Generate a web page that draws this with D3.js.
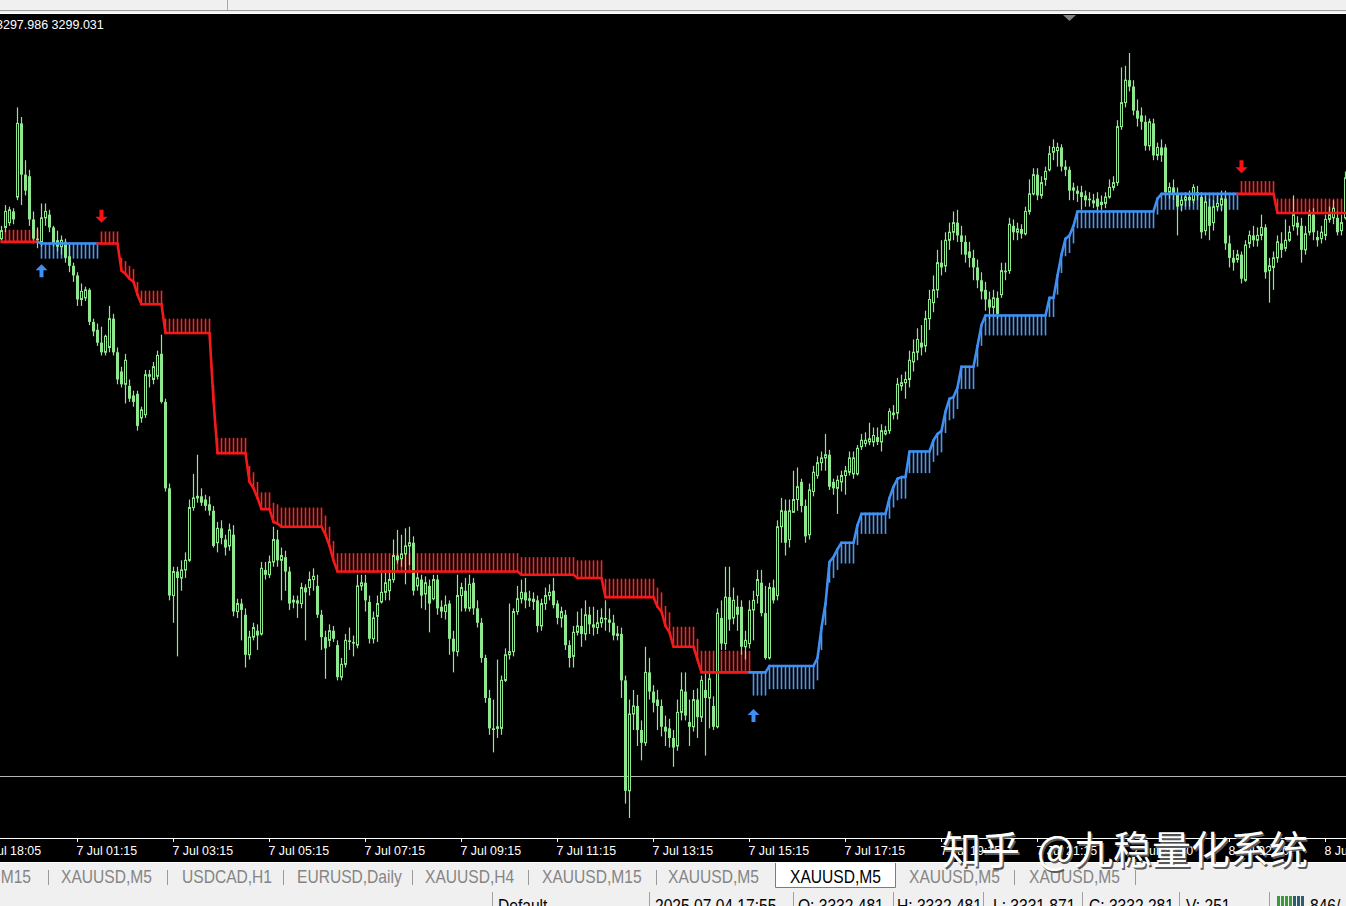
<!DOCTYPE html>
<html>
<head>
<meta charset="UTF-8">
<title>XAUUSD,M5</title>
<script src="https://cdn.jsdelivr.net/npm/d3@7"></script>
<style>
* { margin: 0; padding: 0; }
body { background: #000; overflow: hidden; }
#chart { display: block; }
</style>
</head>
<body>
<svg id="chart" width="1346" height="906"></svg>
<script>
// M5 bars, left to right: [open, high, low, close]
const candles = [
  [3331.6,3332.4,3331.5,3332.1],[3332.3,3333.7,3332.0,3333.3],[3332.6,3333.6,3332.4,3333.4],[3333.3,3333.5,3332.5,3332.8],
  [3334.2,3339.8,3334.0,3338.8],[3338.8,3339.2,3333.7,3335.6],[3335.6,3336.5,3334.3,3334.6],[3335.5,3335.9,3332.4,3332.8],
  [3332.8,3333.3,3331.3,3331.6],[3331.6,3332.3,3331.0,3331.5],[3331.4,3333.8,3331.1,3332.9],[3332.9,3333.8,3332.4,3333.3],
  [3333.1,3333.4,3332.0,3332.3],[3332.3,3332.4,3331.1,3331.3],[3331.5,3332.1,3330.8,3331.1],[3331.1,3331.8,3330.6,3331.5],
  [3331.4,3331.6,3330.1,3330.4],[3330.5,3331.2,3329.5,3329.9],[3329.9,3330.1,3328.9,3329.3],[3329.3,3329.5,3327.4,3327.8],
  [3327.8,3328.8,3327.4,3328.3],[3327.9,3328.6,3327.7,3328.4],[3328.4,3328.5,3326.2,3326.4],[3326.4,3326.6,3325.5,3325.8],
  [3325.9,3326.3,3324.9,3325.1],[3325.1,3326.1,3324.3,3324.5],[3324.5,3325.6,3324.3,3325.5],[3324.8,3327.4,3324.5,3326.6],
  [3326.6,3326.9,3324.3,3324.5],[3324.5,3324.8,3322.5,3322.8],[3323.3,3323.6,3322.3,3322.5],[3322.5,3324.4,3321.3,3324.0],
  [3322.4,3322.8,3321.4,3321.6],[3321.8,3322.1,3321.1,3321.4],[3321.9,3322.1,3319.6,3319.9],[3320.4,3321.1,3320.1,3320.9],
  [3320.6,3323.4,3320.4,3323.1],[3323.0,3323.4,3322.3,3323.1],[3322.8,3323.9,3322.5,3323.6],[3323.0,3324.6,3322.8,3324.3],
  [3324.4,3325.6,3321.3,3321.4],[3321.4,3321.6,3315.8,3316.0],[3316.0,3316.3,3309.0,3309.3],[3309.3,3311.1,3307.6,3310.8],
  [3310.8,3311.1,3305.5,3310.4],[3310.4,3311.5,3309.6,3310.9],[3310.9,3312.0,3310.4,3311.5],[3311.5,3315.3,3311.4,3314.8],
  [3314.8,3316.9,3314.6,3315.4],[3315.4,3318.1,3315.1,3315.5],[3315.5,3316.0,3314.9,3315.1],[3315.3,3315.6,3314.6,3314.9],
  [3315.0,3315.5,3314.3,3314.6],[3314.6,3314.9,3312.3,3312.4],[3312.6,3313.9,3312.0,3313.5],[3313.5,3314.0,3312.5,3312.9],
  [3312.8,3313.1,3311.8,3312.3],[3312.4,3313.8,3312.1,3313.4],[3313.1,3313.7,3308.0,3308.3],[3308.3,3309.1,3307.9,3308.8],
  [3308.8,3309.1,3306.5,3308.4],[3308.1,3308.5,3304.8,3305.6],[3305.6,3307.1,3305.3,3306.7],[3306.7,3307.6,3306.5,3307.3],
  [3307.1,3307.5,3305.9,3306.8],[3306.9,3311.4,3306.8,3311.0],[3310.9,3311.4,3310.3,3310.6],[3310.6,3311.8,3310.4,3311.4],
  [3311.4,3313.6,3311.1,3312.8],[3312.8,3313.4,3311.1,3311.5],[3311.5,3312.3,3309.0,3311.8],[3311.7,3312.1,3309.6,3310.8],
  [3310.8,3311.1,3308.4,3308.8],[3308.9,3309.3,3308.5,3309.0],[3309.0,3309.3,3307.9,3308.8],[3308.8,3310.1,3308.5,3309.8],
  [3309.8,3310.0,3306.5,3309.5],[3309.8,3310.8,3309.3,3310.3],[3310.3,3311.0,3309.6,3310.5],[3309.9,3310.6,3307.9,3308.1],
  [3308.1,3308.4,3305.9,3306.7],[3306.7,3307.1,3304.1,3306.0],[3306.5,3307.5,3306.1,3307.1],[3307.1,3307.4,3306.4,3306.6],
  [3306.2,3306.5,3304.0,3304.2],[3304.2,3305.4,3304.0,3305.0],[3305.0,3306.9,3304.8,3306.5],[3306.5,3307.3,3305.9,3306.4],
  [3306.4,3306.8,3305.5,3306.3],[3306.2,3310.6,3306.0,3309.9],[3309.9,3310.6,3309.6,3310.1],[3310.1,3310.6,3308.3,3309.0],
  [3308.9,3309.3,3306.3,3306.6],[3306.6,3308.3,3306.3,3307.9],[3308.0,3309.3,3306.4,3308.8],[3308.9,3310.7,3308.8,3309.5],
  [3309.5,3310.8,3309.0,3310.1],[3309.6,3310.9,3309.0,3310.3],[3310.3,3312.8,3310.1,3311.8],[3311.8,3313.4,3311.3,3311.5],
  [3311.6,3313.1,3311.1,3311.9],[3311.9,3313.5,3310.0,3312.4],[3312.4,3313.6,3311.2,3312.6],[3312.6,3313.0,3309.3,3309.6],
  [3309.9,3310.8,3309.6,3310.4],[3310.3,3310.6,3308.5,3309.3],[3309.4,3310.5,3308.4,3310.1],[3309.9,3310.3,3307.0,3308.8],
  [3309.1,3310.6,3309.0,3310.3],[3310.3,3310.6,3308.1,3308.5],[3308.6,3309.0,3307.9,3308.3],[3308.3,3309.3,3307.8,3308.7],
  [3308.8,3309.0,3305.6,3306.6],[3306.6,3307.1,3304.5,3305.8],[3305.8,3310.6,3305.5,3309.3],[3309.3,3310.1,3308.3,3309.8],
  [3309.6,3310.4,3308.3,3308.5],[3308.5,3310.6,3308.3,3310.0],[3310.1,3310.4,3308.1,3308.5],[3308.5,3309.0,3307.3,3307.6],
  [3307.6,3307.9,3305.1,3305.4],[3305.4,3305.6,3302.6,3302.9],[3302.9,3303.4,3300.6,3301.0],[3301.0,3302.8,3299.5,3300.9],
  [3301.0,3305.3,3300.4,3301.1],[3301.0,3304.3,3300.6,3304.0],[3304.0,3306.0,3303.9,3305.6],[3305.6,3308.8,3305.3,3305.8],
  [3305.8,3308.5,3305.5,3308.3],[3308.3,3309.9,3308.1,3309.1],[3309.1,3310.3,3308.8,3309.5],[3309.5,3310.4,3308.5,3309.0],
  [3309.0,3309.6,3308.6,3309.1],[3309.1,3309.5,3308.4,3308.9],[3309.0,3309.3,3307.0,3307.4],[3307.4,3309.1,3307.1,3308.8],
  [3308.8,3309.8,3308.4,3309.3],[3309.3,3310.0,3309.0,3309.5],[3309.6,3310.4,3308.5,3308.7],[3308.8,3309.0,3307.5,3307.9],
  [3307.9,3308.6,3307.3,3308.3],[3308.1,3308.4,3305.9,3306.2],[3306.2,3306.5,3304.8,3305.4],[3305.5,3307.4,3304.8,3307.0],
  [3307.0,3308.3,3306.8,3307.4],[3307.4,3308.5,3306.1,3306.9],[3306.9,3309.0,3306.5,3308.1],[3308.1,3308.6,3306.9,3307.5],
  [3307.5,3308.6,3306.8,3307.3],[3307.3,3308.4,3306.9,3307.6],[3307.6,3308.5,3307.3,3307.9],[3307.9,3309.0,3307.1,3307.8],
  [3307.8,3308.5,3307.0,3307.6],[3307.6,3308.1,3306.5,3306.8],[3306.8,3307.4,3306.5,3306.9],[3306.9,3307.3,3302.9,3304.0],
  [3304.0,3304.3,3296.3,3297.1],[3297.1,3302.8,3295.4,3301.9],[3301.9,3303.4,3300.9,3302.4],[3302.4,3303.1,3299.9,3300.9],
  [3300.9,3301.5,3299.0,3300.1],[3300.1,3306.1,3299.9,3304.5],[3304.5,3305.4,3302.8,3303.3],[3303.3,3303.7,3302.0,3302.6],
  [3302.8,3303.4,3300.9,3302.4],[3302.4,3302.8,3300.5,3301.1],[3301.1,3301.8,3299.9,3300.8],[3301.0,3301.6,3299.8,3300.4],
  [3300.4,3300.9,3298.6,3299.8],[3299.9,3302.8,3299.6,3302.0],[3302.0,3304.5,3301.5,3303.4],[3303.3,3304.5,3301.5,3301.8],
  [3301.4,3302.8,3299.9,3301.1],[3301.1,3303.4,3300.8,3302.8],[3302.8,3303.5,3300.4,3301.7],[3301.7,3304.3,3301.4,3304.0],
  [3303.4,3304.6,3299.3,3302.9],[3302.9,3304.5,3301.0,3304.1],[3302.4,3303.0,3300.9,3301.1],[3301.1,3308.5,3301.0,3308.2],
  [3307.9,3309.0,3305.9,3306.3],[3306.3,3311.1,3305.9,3309.2],[3309.2,3311.1,3307.1,3307.8],[3307.9,3309.8,3307.5,3309.0],
  [3308.6,3309.3,3307.1,3308.1],[3308.6,3309.0,3305.6,3306.1],[3306.1,3307.1,3305.3,3306.5],[3306.3,3309.0,3306.0,3308.4],
  [3308.4,3309.6,3306.5,3309.0],[3309.3,3310.9,3308.8,3310.3],[3310.1,3310.9,3308.0,3308.2],[3308.2,3309.9,3305.3,3305.4],
  [3305.4,3310.1,3305.3,3309.8],[3309.8,3310.3,3308.8,3309.0],[3309.3,3314.0,3309.0,3313.6],[3313.6,3315.4,3312.6,3314.6],
  [3314.6,3315.3,3311.8,3312.6],[3312.8,3315.3,3312.3,3314.6],[3314.5,3317.1,3314.5,3315.3],[3315.3,3317.3,3314.6,3316.1],
  [3316.4,3316.6,3314.5,3314.9],[3314.9,3315.3,3312.6,3313.0],[3313.1,3316.3,3312.8,3315.9],[3315.8,3317.4,3315.5,3317.0],
  [3316.8,3318.0,3316.6,3317.6],[3317.6,3318.3,3317.1,3317.9],[3317.9,3319.4,3317.1,3318.1],[3318.1,3318.4,3315.9,3316.1],
  [3316.4,3316.6,3315.6,3316.0],[3316.0,3316.8,3314.4,3316.5],[3316.4,3317.1,3315.8,3316.8],[3316.8,3317.4,3315.6,3317.1],
  [3317.0,3318.3,3316.8,3317.9],[3316.9,3318.3,3316.6,3317.9],[3316.9,3318.7,3316.8,3318.5],[3318.6,3319.4,3318.4,3319.0],
  [3318.8,3319.5,3318.6,3319.0],[3318.9,3320.1,3318.7,3319.1],[3318.9,3319.8,3318.6,3319.3],[3319.2,3319.8,3318.7,3318.9],
  [3318.9,3320.0,3318.3,3319.6],[3319.4,3319.9,3319.3,3319.6],[3319.6,3321.0,3319.4,3320.8],[3320.6,3321.2,3320.3,3320.7],
  [3320.7,3322.9,3320.3,3322.5],[3322.4,3323.1,3322.1,3322.6],[3322.6,3323.3,3321.6,3322.8],[3322.8,3324.6,3322.3,3324.0],
  [3323.9,3325.3,3323.3,3324.5],[3324.5,3326.0,3324.0,3325.3],[3325.1,3326.2,3324.3,3324.8],[3324.9,3327.1,3324.5,3326.6],
  [3326.6,3328.4,3325.9,3327.8],[3327.6,3329.3,3327.0,3328.4],[3328.4,3330.9,3327.9,3330.1],[3330.1,3331.5,3329.3,3329.8],
  [3329.9,3332.0,3329.5,3331.5],[3331.5,3332.6,3330.9,3332.0],[3332.0,3333.3,3331.5,3332.6],[3332.6,3333.4,3331.4,3331.8],
  [3331.8,3332.4,3330.6,3331.4],[3331.4,3331.8,3330.1,3330.6],[3330.8,3331.4,3329.8,3330.4],[3330.4,3330.9,3329.0,3329.8],
  [3329.8,3330.3,3328.5,3329.0],[3329.0,3329.5,3327.8,3328.3],[3328.4,3328.9,3327.1,3327.8],[3327.8,3328.3,3326.6,3327.3],
  [3327.3,3328.4,3326.7,3327.9],[3327.9,3328.3,3326.6,3326.9],[3328.1,3330.1,3327.9,3329.6],[3329.6,3330.1,3329.0,3329.5],
  [3329.6,3332.9,3329.4,3332.5],[3332.4,3332.8,3331.5,3332.0],[3332.0,3332.6,3331.5,3332.2],[3332.2,3332.5,3331.6,3331.9],
  [3331.9,3333.6,3331.8,3333.3],[3333.3,3335.3,3333.1,3334.4],[3334.4,3336.0,3334.3,3335.6],[3335.6,3336.0,3334.0,3334.3],
  [3334.3,3335.5,3334.1,3335.1],[3335.3,3336.1,3334.9,3335.8],[3335.9,3337.4,3335.8,3336.9],[3337.0,3337.8,3336.5,3337.3],
  [3337.1,3337.6,3336.1,3337.3],[3337.3,3337.5,3335.8,3336.1],[3336.1,3336.5,3335.5,3335.9],[3335.9,3336.1,3334.0,3334.6],
  [3334.8,3335.1,3334.0,3334.6],[3334.6,3334.9,3333.9,3334.4],[3334.5,3334.9,3333.4,3334.2],[3334.3,3334.6,3333.6,3334.0],
  [3334.1,3334.5,3333.6,3334.0],[3334.0,3334.4,3333.5,3333.8],[3334.1,3334.5,3333.3,3333.6],[3333.9,3334.3,3333.4,3333.7],
  [3333.8,3334.5,3333.5,3334.2],[3334.2,3335.3,3334.1,3334.8],[3334.8,3335.5,3334.6,3335.1],[3335.1,3339.0,3334.9,3338.6],
  [3338.6,3342.3,3338.4,3340.1],[3340.1,3342.4,3339.8,3341.5],[3341.5,3343.2,3340.8,3341.1],[3341.1,3341.5,3339.3,3339.6],
  [3339.6,3340.3,3338.6,3339.1],[3339.3,3339.8,3338.4,3338.9],[3338.9,3339.3,3337.1,3337.4],[3337.4,3339.1,3337.1,3338.9],
  [3338.8,3339.1,3336.5,3336.8],[3336.8,3337.6,3336.5,3337.3],[3337.3,3337.8,3336.4,3336.8],[3337.3,3337.5,3334.3,3334.5],
  [3334.5,3335.1,3334.1,3334.8],[3334.8,3335.3,3334.0,3334.4],[3334.4,3334.8,3331.8,3333.6],[3333.7,3334.3,3333.3,3334.0],
  [3334.0,3334.5,3333.6,3334.2],[3334.2,3334.6,3333.6,3334.0],[3334.0,3335.0,3333.8,3334.8],[3334.5,3334.9,3334.0,3334.3],
  [3334.2,3334.5,3331.6,3332.0],[3332.1,3334.3,3331.8,3333.9],[3333.6,3334.1,3331.5,3332.4],[3332.6,3334.0,3332.1,3333.6],
  [3333.6,3334.3,3333.3,3333.8],[3333.7,3334.6,3333.3,3334.1],[3334.1,3334.6,3330.9,3331.3],[3331.3,3331.8,3329.8,3330.4],
  [3330.4,3330.9,3329.6,3330.1],[3330.3,3330.9,3330.1,3330.6],[3330.6,3330.8,3328.8,3329.1],[3329.0,3331.5,3328.9,3331.2],
  [3331.3,3332.1,3331.0,3331.8],[3331.8,3332.4,3331.1,3331.5],[3331.5,3332.3,3331.1,3331.8],[3331.8,3333.1,3331.5,3332.3],
  [3332.3,3332.5,3329.1,3329.5],[3329.6,3330.4,3327.6,3329.9],[3329.8,3330.8,3328.4,3330.4],[3330.4,3331.8,3330.1,3331.4],
  [3331.3,3332.0,3330.4,3330.9],[3331.0,3332.8,3330.8,3331.5],[3331.5,3332.4,3331.4,3332.0],[3332.4,3334.3,3332.1,3333.1],
  [3332.6,3333.0,3331.8,3332.3],[3332.4,3332.9,3330.1,3330.9],[3330.9,3332.4,3330.6,3331.9],[3332.0,3333.4,3331.8,3333.1],
  [3333.1,3333.5,3331.5,3332.0],[3331.7,3332.1,3331.1,3331.5],[3331.6,3332.4,3331.3,3332.0],[3331.8,3333.1,3331.5,3332.8],
  [3332.8,3333.6,3332.6,3333.1],[3332.9,3334.0,3332.5,3333.5],[3332.9,3333.3,3331.8,3332.0],[3332.1,3333.1,3331.8,3332.6],
  [3332.9,3335.8,3332.8,3335.4]
];

// trailing stop, run-length: [bars, level, trend (1 up / -1 down), band depth]
const stopRuns = [
  [10,3331.4,-1,0.75],[15,3331.3,1,0.95],[5,3331.3,-1,0.75],
  [1,3329.6,-1,0.8],[1,3329.4,-1,0.8],[1,3329.1,-1,0.8],[1,3328.9,-1,0.8],[1,3328.1,-1,0.8],
  [6,3327.5,-1,0.85],[12,3325.7,-1,0.9],[1,3321.5,-1,0.95],[8,3318.2,-1,0.95],
  [1,3316.4,-1,1.0],[1,3316.0,-1,1.0],[1,3315.4,-1,1.0],[3,3314.7,-1,1.05],
  [1,3313.9,-1,1.2],[1,3313.8,-1,1.2],[11,3313.6,-1,1.2],
  [1,3313.1,-1,1.2],[1,3312.4,-1,1.2],[1,3311.5,-1,1.2],
  [46,3310.8,-1,1.15],[14,3310.6,-1,1.1],[7,3310.4,-1,1.1],[13,3309.2,-1,1.15],
  [1,3308.6,-1,1.2],[1,3308.3,-1,1.2],[1,3307.4,-1,1.25],[1,3307.0,-1,1.25],
  [6,3306.1,-1,1.25],[1,3305.3,-1,1.3],[13,3304.5,-1,1.35],
  [4,3304.5,1,1.45],[12,3304.9,1,1.45],
  [1,3305.4,1,1.4],[1,3307.3,1,1.4],[1,3308.8,1,1.35],[1,3311.4,1,1.3],[1,3311.7,1,1.3],[1,3312.2,1,1.3],
  [4,3312.6,1,1.3],[1,3313.7,1,1.25],[7,3314.4,1,1.25],
  [1,3315.4,1,1.3],[1,3316.1,1,1.3],[1,3316.6,1,1.35],[2,3316.7,1,1.35],[6,3318.3,1,1.35],
  [1,3319.0,1,1.35],[1,3319.4,1,1.35],[1,3319.6,1,1.35],[1,3320.8,1,1.35],[1,3321.6,1,1.35],[1,3321.7,1,1.35],[1,3322.3,1,1.35],
  [4,3323.6,1,1.4],[1,3324.9,1,1.3],[1,3326.2,1,1.3],[16,3326.8,1,1.25],[2,3327.9,1,1.2],
  [1,3329.3,1,1.2],[1,3330.6,1,1.15],[1,3331.6,1,1.1],[1,3331.8,1,1.1],[1,3332.4,1,1.1],
  [20,3333.3,1,1.05],[1,3334.1,1,1.0],[20,3334.4,1,1.0],
  [9,3334.4,-1,0.8],[18,3333.2,-1,0.9]
];

// trend change arrows: [bar, price, direction]
const signals = [[10,3329.6,1],[25,3333.0,-1],[188,3301.8,1],[310,3336.1,-1]];
const priceLevels = [3298.0];
const headerValues = ["3297.986", "3299.031"];

const timeLabels = ["4 Jul 18:05","7 Jul 01:15","7 Jul 03:15","7 Jul 05:15","7 Jul 07:15","7 Jul 09:15",
  "7 Jul 11:15","7 Jul 13:15","7 Jul 15:15","7 Jul 17:15","7 Jul 19:15","7 Jul 21:15","7 Jul 23:20",
  "8 Jul 02:20","8 Jul 04:20"];
const firstLabelBar = -5;
const labelStep = 24;

const tabs = ["XAUUSD,M15","XAUUSD,M5","USDCAD,H1","EURUSD,Daily","XAUUSD,H4","XAUUSD,M15",
  "XAUUSD,M5","XAUUSD,M5","XAUUSD,M5","XAUUSD,M5"];
const activeTab = 7;
const statusItems = ["Default","2025.07.04 17:55","O: 3332.481","H: 3332.481","L: 3331.871",
  "C: 3332.281","V: 251","846/"];

(function() {
  const W = 1346, H = 906;
  const top = 14, axisY = 838;
  const svg = d3.select("#chart");
  const green = "#8ee88e", red = "#f51a1a", redHatch = "#ff2424", blue = "#3f90f2", blueHatch = "#4d97f0";
  const uiFont = "'Liberation Sans', Arial, sans-serif";

  // squeeze a text to a narrow face, like the terminal's UI font
  const narrow = sel => sel.each(function() {
    const w = this.getComputedTextLength();
    d3.select(this).attr("textLength", w * 0.82).attr("lengthAdjust", "spacingAndGlyphs");
  });

  svg.append("rect").attr("width", W).attr("height", H).attr("fill", "#000");

  const x = d3.scaleLinear().domain([0, candles.length - 1]).range([1.5, 1.5 + 4 * (candles.length - 1)]);
  const y = d3.scaleLinear()
    .domain([d3.min(candles, d => d[2]), d3.max(candles, d => d[1])])
    .range([818, 53]);

  // expand stop runs into one entry per bar
  const stops = [];
  stopRuns.forEach(([n, v, dir, band]) => {
    for (let k = 0; k < n; k++) stops.push({ v, dir, band });
  });

  svg.append("clipPath").attr("id", "plot")
    .append("rect").attr("x", 0).attr("y", top).attr("width", W).attr("height", axisY - top);
  const g = svg.append("g").attr("clip-path", "url(#plot)");

  // horizontal level
  g.selectAll(".level").data(priceLevels).enter().append("line")
    .attr("x1", 0).attr("x2", W)
    .attr("y1", d => Math.round(y(d)) + 0.5).attr("y2", d => Math.round(y(d)) + 0.5)
    .attr("stroke", "#b4b4b4").attr("stroke-width", 1);

  // hatch band of the stop line
  g.selectAll(".hatch").data(stops).enter().append("line")
    .attr("x1", (d, i) => x(i)).attr("x2", (d, i) => x(i))
    .attr("y1", d => y(d.v)).attr("y2", d => y(d.v - d.dir * d.band))
    .attr("stroke", d => d.dir > 0 ? blueHatch : redHatch).attr("stroke-width", 1.6);

  // candles
  const c = g.selectAll(".bar").data(candles).enter().append("g");
  c.append("line")
    .attr("x1", (d, i) => x(i)).attr("x2", (d, i) => x(i))
    .attr("y1", d => y(d[1])).attr("y2", d => y(d[2]))
    .attr("stroke", green).attr("stroke-width", 1.2);
  c.append("rect")
    .attr("x", (d, i) => d[3] > d[0] ? x(i) - 1 : x(i) - 1.5)
    .attr("width", d => d[3] > d[0] ? 2 : 3)
    .attr("y", d => y(Math.max(d[0], d[3])))
    .attr("height", d => Math.max(1, y(Math.min(d[0], d[3])) - y(Math.max(d[0], d[3]))))
    .attr("fill", d => d[3] > d[0] ? "#000" : green)
    .attr("stroke", d => d[3] > d[0] ? green : "none")
    .attr("stroke-width", 1);

  // stop line, coloured by trend
  g.selectAll(".seg").data(stops.slice(1)).enter().append("line")
    .attr("x1", (d, i) => x(i)).attr("x2", (d, i) => x(i + 1))
    .attr("y1", (d, i) => y(stops[i].v)).attr("y2", d => y(d.v))
    .attr("stroke", d => d.dir > 0 ? blue : red)
    .attr("stroke-width", 2.6).attr("stroke-linecap", "round");

  // arrows
  const arrow = d => {
    const cx = x(d[0]), cy = y(d[1]), s = d[2] > 0 ? 1 : -1;
    const p = [[0, -6.5], [6, -0.5], [2, -0.5], [2, 6.5], [-2, 6.5], [-2, -0.5], [-6, -0.5]];
    return "M" + p.map(q => [cx + q[0], cy + q[1] * s].join(",")).join("L") + "Z";
  };
  g.selectAll(".sig").data(signals).enter().append("path")
    .attr("d", arrow).attr("fill", d => d[2] > 0 ? blue : "#ff1010");

  // header values
  svg.append("text").attr("x", -4).attr("y", 29)
    .attr("fill", "#fff").style("font", "12.5px 'Liberation Sans', Arial, sans-serif")
    .text(headerValues.join(" "));

  // time axis
  const labelBars = timeLabels.map((t, k) => firstLabelBar + k * labelStep);
  const axis = d3.axisBottom(x).tickValues(labelBars)
    .tickFormat((d, k) => timeLabels[k]).tickSize(4).tickSizeOuter(0).offset(0);
  const gAxis = svg.append("g").attr("transform", `translate(0,${axisY})`).call(axis);
  gAxis.select(".domain").remove();
  gAxis.selectAll("line").attr("stroke", "#fff");
  gAxis.selectAll("text").attr("fill", "#fff").attr("text-anchor", "start")
    .attr("x", -1).attr("y", 17).attr("dy", null)
    .style("font", "12.4px 'Liberation Sans', Arial, sans-serif");
  svg.append("line").attr("x1", 0).attr("x2", W).attr("y1", axisY + 0.5).attr("y2", axisY + 0.5)
    .attr("stroke", "#fff");

  // window frame above the chart
  svg.append("rect").attr("width", W).attr("height", 13).attr("fill", "#f0f0f0");
  svg.append("line").attr("x1", 0).attr("x2", W).attr("y1", 10.5).attr("y2", 10.5).attr("stroke", "#9c9c9c");
  svg.append("line").attr("x1", 227.5).attr("x2", 227.5).attr("y1", 0).attr("y2", 10).attr("stroke", "#a8a8a8");
  svg.append("line").attr("x1", 0).attr("x2", W).attr("y1", 13.5).attr("y2", 13.5).attr("stroke", "#fff");
  svg.append("path").attr("d", "M1063,15L1076,15L1069.5,21Z").attr("fill", "#808080");

  // tab bar
  const tabTop = 862;
  svg.append("rect").attr("y", tabTop).attr("width", W).attr("height", H - tabTop).attr("fill", "#f0f0f0");
  svg.append("line").attr("x1", 0).attr("x2", W).attr("y1", tabTop + 0.5).attr("y2", tabTop + 0.5).attr("stroke", "#fff");
  const tabX = [31, 61, 182, 297, 425, 542, 668, 790, 909, 1029];
  const tabSeps = [48, 167, 283, 412, 528, 656, 1014, 1135];
  svg.append("path").attr("d", "M775.5,863V887.5H895.5V863").attr("fill", "#fff").attr("stroke", "#7c7c7c");
  svg.selectAll(".tsep").data(tabSeps).enter().append("line")
    .attr("x1", d => d + 0.5).attr("x2", d => d + 0.5).attr("y1", 870).attr("y2", 885).attr("stroke", "#9a9a9a");
  svg.selectAll(".tab").data(tabs).enter().append("text")
    .attr("x", (d, i) => tabX[i]).attr("y", 883)
    .attr("text-anchor", (d, i) => i === 0 ? "end" : "start")
    .attr("fill", (d, i) => i === activeTab ? "#000" : "#858585")
    .style("font", `19px ${uiFont}`)
    .text(d => d)
    .call(narrow);

  // status bar
  const statusX = [498, 655, 798, 897, 993, 1089, 1186, 1310];
  const statusSeps = [492, 649, 793, 893, 983, 1082, 1179, 1269];
  svg.selectAll(".ssep").data(statusSeps).enter().append("line")
    .attr("x1", d => d + 0.5).attr("x2", d => d + 0.5).attr("y1", 892).attr("y2", H).attr("stroke", "#a0a0a0");
  svg.selectAll(".status").data(statusItems).enter().append("text")
    .attr("x", (d, i) => statusX[i]).attr("y", 912)
    .attr("fill", "#000").style("font", `19px ${uiFont}`)
    .text(d => d)
    .call(narrow);
  svg.selectAll(".meter").data(d3.range(7)).enter().append("rect")
    .attr("x", d => 1277 + d * 4).attr("y", 896).attr("width", 3).attr("height", 10)
    .attr("fill", d => d < 4 ? "#3c9a3c" : "#2c5f6e");

  // watermark
  const wm = svg.append("g").style("font", "39px 'Noto Sans CJK SC', sans-serif");
  [["#5a5a5a", 1.5], ["#ffffff", 0]].forEach(([col, off]) => {
    wm.append("text").attr("x", 942 + off).attr("y", 864 + off).attr("fill", col).text("知乎");
    wm.append("text").attr("x", 1037 + off).attr("y", 864 + off).attr("fill", col).text("@九稳量化系统");
  });
})();
</script>
</body>
</html>
